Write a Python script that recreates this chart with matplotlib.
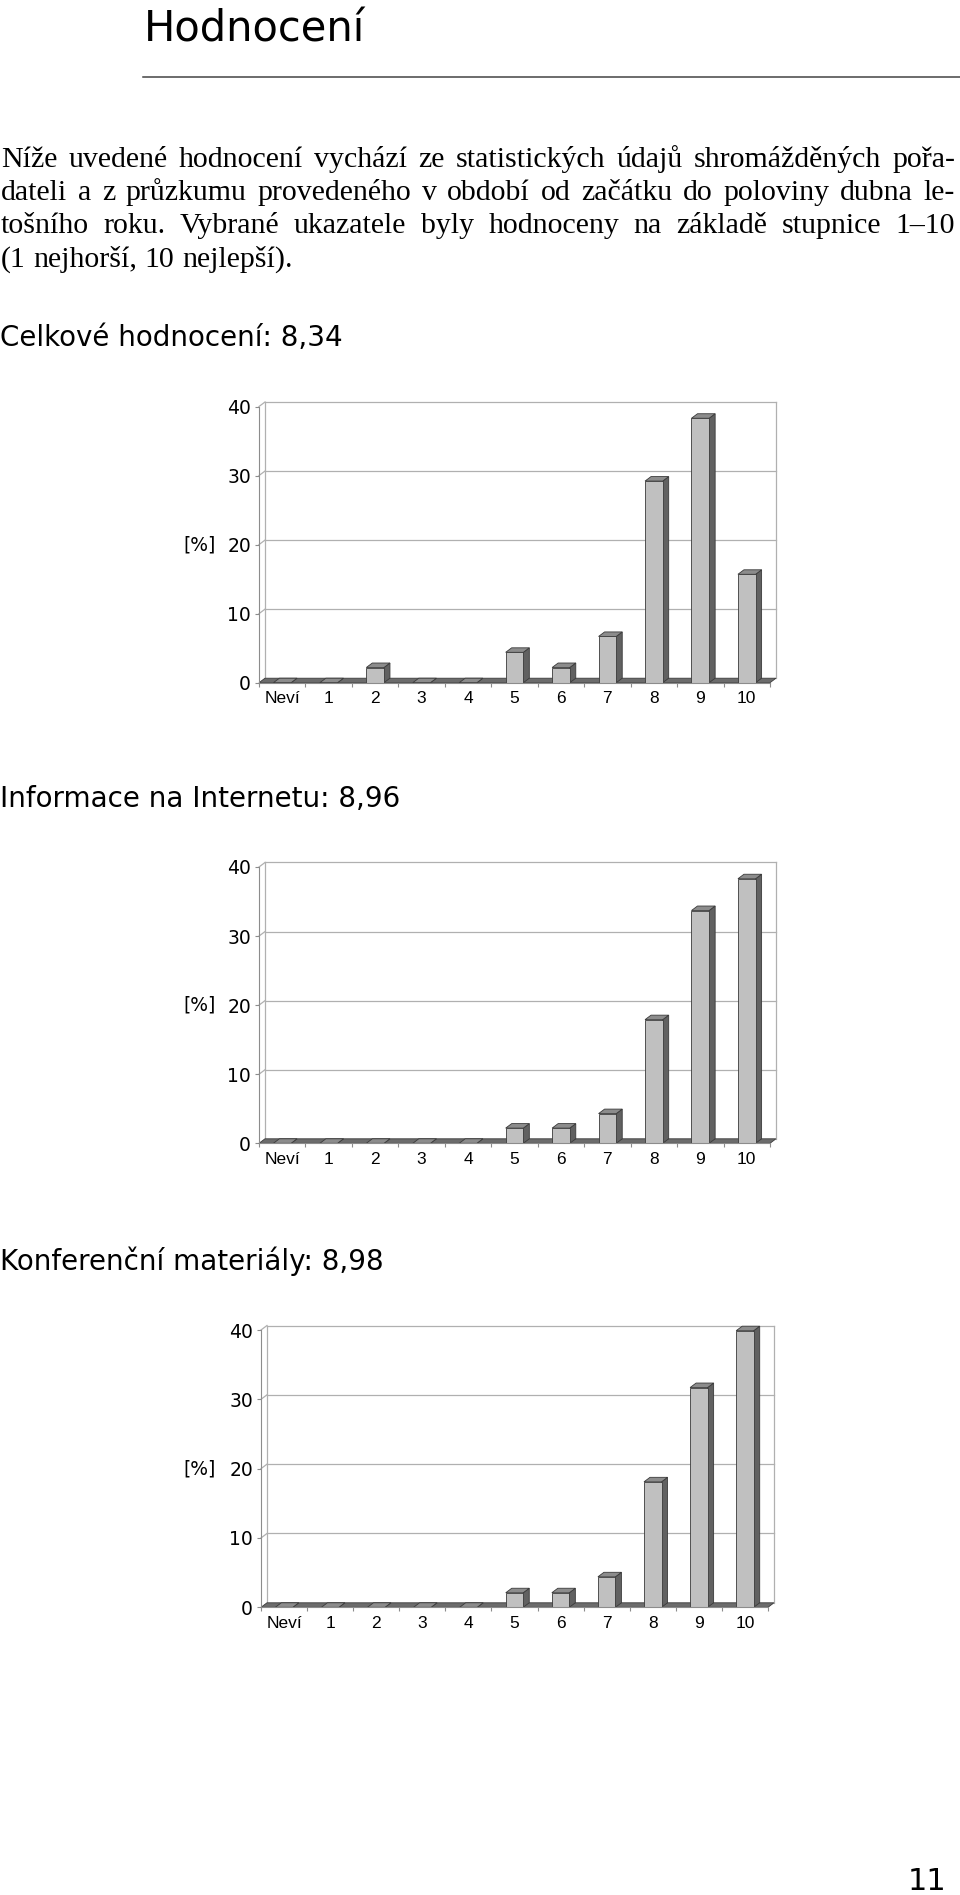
import numpy as np
import matplotlib
matplotlib.use("Agg")
import matplotlib.pyplot as plt
from matplotlib.patches import Polygon

# data (percent of answers)
categories = ["Neví", "1", "2", "3", "4", "5", "6", "7", "8", "9", "10"]
celkove = [0, 0, 2.2, 0, 0, 4.4, 2.2, 6.7, 29.2, 38.3, 15.7]
internet = [0, 0, 0, 0, 0, 2.2, 2.2, 4.3, 17.9, 33.7, 38.3]
konference = [0, 0, 0, 0, 0, 2.1, 2.1, 4.4, 18.1, 31.7, 39.9]
y_ticks = [0, 10, 20, 30, 40]

heading = "Hodnocení"
section_titles = ["Celkové hodnocení: 8,34",
                  "Informace na Internetu: 8,96",
                  "Konferenční materiály: 8,98"]
body_lines = [
    "Níže uvedené hodnocení vychází ze statistických údajů shromážděných pořa-",
    "dateli a z průzkumu provedeného v období od začátku do poloviny dubna le-",
    "tošního roku. Vybrané ukazatele byly hodnoceny na základě stupnice 1–10",
    "(1 nejhorší, 10 nejlepší).",
]
page_number = "11"

W, H, DPI = 960, 1895, 100
fig = plt.figure(figsize=(W / DPI, H / DPI), dpi=DPI)
fig.patch.set_facecolor("white")


def fx(x):
    return x / W


def fy(y):
    return 1 - y / H


# heading + rule
fig.text(fx(144), fy(41), heading, fontsize=30, family="DejaVu Sans",
         va="baseline", ha="left")
fig.add_artist(plt.Line2D([fx(143), fx(960)], [fy(77.3), fy(77.3)],
                          color="#444444", lw=1.1))

# justified body text, word by word
renderer = fig.canvas.get_renderer()
text_left, text_right = 1, 955
body_size = 21.5
for i, line in enumerate(body_lines):
    base = 166.7 + i * 33.3
    words = line.split(" ")
    texts = [fig.text(0, fy(base), w, fontsize=body_size,
                      family="Liberation Serif", va="baseline", ha="left")
             for w in words]
    widths = [t.get_window_extent(renderer).width for t in texts]
    if i < len(body_lines) - 1:
        gap = (text_right - text_left - sum(widths)) / (len(words) - 1)
    else:
        gap = 0.25 * body_size * DPI / 72
    x = text_left
    for t, w in zip(texts, widths):
        t.set_x(fx(x))
        x += w + gap

# chart geometry in pixels: left, right, y of 0, y of 40, title baseline
chart_boxes = [(259, 770, 682.7, 406.5, 346),
               (259, 770, 1143.3, 867.0, 807),
               (261, 768, 1607.3, 1330.0, 1270)]
chart_values = [celkove, internet, konference]

DX, DY = 6.0, 4.5  # 3d depth in px
front_c, side_c, top_c = "#c0c0c0", "#616161", "#8c8c8c"
edge_c, grid_c, axis_c = "#3a3a3a", "#b0b0b0", "#8c8c8c"


def draw_chart(left, right, y0, y40, values):
    n = len(categories)
    ax = fig.add_axes([fx(left), fy(y0), (right - left) / W, (y0 - y40) / H])
    ax.set_xlim(-0.5, n - 0.5)
    ax.set_ylim(0, 40)
    ax.patch.set_visible(False)
    ux = (right - left) / n
    uy = (y0 - y40) / 40
    ddx, ddy = DX / ux, DY / uy

    # back wall
    for v in y_ticks[1:]:
        ax.plot([-0.5 + ddx, n - 0.5 + ddx], [v + ddy, v + ddy], color=grid_c,
                lw=0.9, clip_on=False, zorder=1)
        ax.plot([-0.5, -0.5 + ddx], [v, v + ddy], color=grid_c, lw=0.9,
                clip_on=False, zorder=1)
    ax.plot([-0.5 + ddx] * 2, [ddy, 40 + ddy], color=grid_c, lw=0.9,
            clip_on=False, zorder=1)
    ax.plot([n - 0.5 + ddx] * 2, [ddy, 40 + ddy], color=grid_c, lw=0.9,
            clip_on=False, zorder=1)

    # floor
    ax.add_patch(Polygon([(-0.5, 0), (n - 0.5, 0), (n - 0.5 + ddx, ddy),
                          (-0.5 + ddx, ddy)], closed=True, fc="#6c6c6c",
                         ec=edge_c, lw=0.6, clip_on=False, zorder=2))

    # bars
    w = 0.38
    xs = np.arange(n)
    for x, v in zip(xs, values):
        x0, x1 = x - w / 2, x + w / 2
        ax.add_patch(Polygon([(x1, 0), (x1 + ddx, ddy), (x1 + ddx, v + ddy),
                              (x1, v)], closed=True, fc=side_c, ec=edge_c,
                             lw=0.6, clip_on=False, zorder=3))
        ax.add_patch(Polygon([(x0, v), (x1, v), (x1 + ddx, v + ddy),
                              (x0 + ddx, v + ddy)], closed=True, fc=top_c,
                             ec=edge_c, lw=0.6, clip_on=False, zorder=3))
    bars = [v if v > 0 else np.nan for v in values]
    ax.bar(xs, bars, width=w, color=front_c, edgecolor=edge_c, lw=0.6,
           zorder=4, clip_on=False)

    for s in ["top", "right"]:
        ax.spines[s].set_visible(False)
    for s in ["left", "bottom"]:
        ax.spines[s].set_color(axis_c)
        ax.spines[s].set_linewidth(0.8)
        ax.spines[s].set_zorder(5)

    ax.set_yticks(y_ticks)
    ax.set_yticklabels([str(t) for t in y_ticks], family="DejaVu Sans",
                       fontsize=13.5)
    ax.tick_params(axis="y", length=2.9, width=0.8, color=axis_c, pad=2.9)
    ax.set_xticks(xs)
    ax.set_xticklabels(categories, family="Liberation Sans", fontsize=12.5)
    ax.tick_params(axis="x", which="major", length=0, pad=6)
    ax.set_xticks(np.arange(-0.5, n), minor=True)
    ax.tick_params(axis="x", which="minor", length=3, width=0.8, color=axis_c)

    ax.set_ylabel("[%]", rotation=0, family="DejaVu Sans", fontsize=13.5,
                  ha="right", va="center")
    ax.yaxis.set_label_coords((216 - left) / (right - left), 0.5)
    return ax


for (left, right, y0, y40, tb), vals, title in zip(chart_boxes, chart_values,
                                                   section_titles):
    fig.text(fx(0), fy(tb), title, fontsize=20, family="DejaVu Sans",
             va="baseline", ha="left")
    draw_chart(left, right, y0, y40, vals)

fig.text(fx(946), fy(1890.5), page_number, fontsize=22, family="DejaVu Sans",
         va="baseline", ha="right")

fig.savefig("out.png", dpi=DPI, facecolor="white")
